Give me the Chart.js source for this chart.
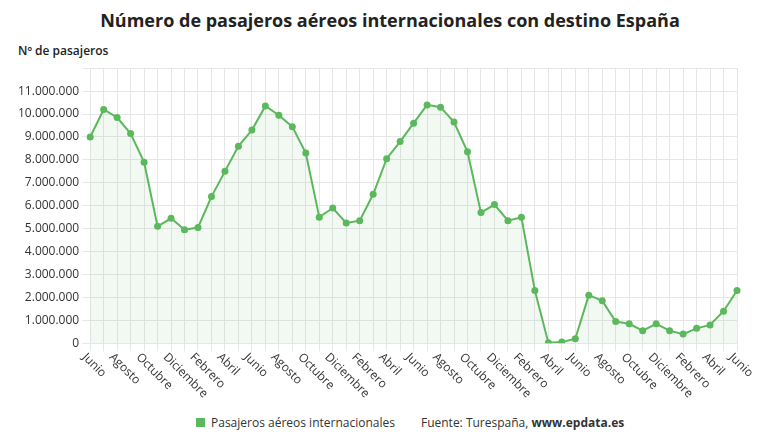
<!DOCTYPE html>
<html><head><meta charset="utf-8">
<script src="https://cdn.jsdelivr.net/npm/chart.js@4/dist/chart.umd.min.js"></script>
<style>
body{margin:0;width:780px;height:440px;background:#fff;font-family:"Open Sans",sans-serif;position:relative;overflow:hidden}
#t{position:absolute;top:8px;left:0;width:780px;text-align:center;font-weight:bold;font-size:18px;color:#222}
#yl{position:absolute;top:42px;left:18px;font-size:12px;font-weight:600;color:#222}
#c{position:absolute;left:0;top:58px}
#lg{position:absolute;top:414px;left:196px;font-size:12px;color:#333}
#lg span.sq{display:inline-block;width:9px;height:9px;background:#5cb85c;margin-right:6px}
</style></head><body>
<div id="t">Número de pasajeros aéreos internacionales con destino España</div>
<div id="yl">Nº de pasajeros</div>
<canvas id="c" width="780" height="350"></canvas>
<div id="lg"><span class="sq"></span>Pasajeros aéreos internacionales<span style="margin-left:26px">Fuente: Turespaña, <b>www.epdata.es</b></span></div>
<script>
const months=["Junio","Julio","Agosto","Septiembre","Octubre","Noviembre","Diciembre","Enero","Febrero","Marzo","Abril","Mayo"];
const categories=[];for(let i=0;i<49;i++)categories.push(months[i%12]);
const values=[9.0,10.2,9.85,9.15,7.9,5.1,5.45,4.95,5.05,6.4,7.5,8.6,9.3,10.35,9.95,9.45,8.3,5.5,5.9,5.25,5.35,6.5,8.05,8.8,9.6,10.4,10.3,9.65,8.35,5.7,6.05,5.35,5.5,2.3,0.02,0.05,0.2,2.1,1.85,0.95,0.85,0.55,0.85,0.55,0.4,0.65,0.8,1.4,2.3].map(v=>Math.round(v*1e6));
const fmt=v=>String(v).replace(/\B(?=(\d{3})+(?!\d))/g,".");
const xLabels={id:'xl',afterDraw(ch){const c=ch.ctx,x=ch.scales.x,y0=ch.chartArea.bottom;c.save();c.font='12px "Open Sans"';c.fillStyle='#333';c.textAlign='left';c.textBaseline='middle';
categories.forEach((l,i)=>{if(i%2)return;const px=x.getPixelForValue(i);c.save();c.translate(px-6,y0+12);c.rotate(Math.PI/4);c.fillText(l,0,0);c.restore();});c.restore();}};
new Chart(document.getElementById('c'),{type:'line',
data:{labels:categories,datasets:[{data:values,borderColor:'#5cb85c',backgroundColor:'rgba(92,184,92,0.08)',fill:true,borderWidth:2,pointRadius:3.5,pointBackgroundColor:'#5cb85c',pointBorderWidth:0,tension:0}]},
options:{responsive:false,animation:false,layout:{padding:{left:15,right:43,top:0,bottom:0}},
plugins:{legend:{display:false},tooltip:{enabled:false}},
scales:{y:{min:0,max:12000000,ticks:{stepSize:1000000,color:'#333',font:{size:12,family:'Open Sans'},callback:v=>v>=12000000?'':fmt(v)},grid:{color:'#e6e6e6'},border:{display:false}},
x:{offset:false,ticks:{autoSkip:false,maxRotation:45,minRotation:45,color:'rgba(0,0,0,0)',font:{size:12,family:'Open Sans'},callback:(v,i)=>i%2===0?categories[i]:''},grid:{color:'#e6e6e6'},border:{display:false}}}},
plugins:[xLabels]});
</script></body></html>
